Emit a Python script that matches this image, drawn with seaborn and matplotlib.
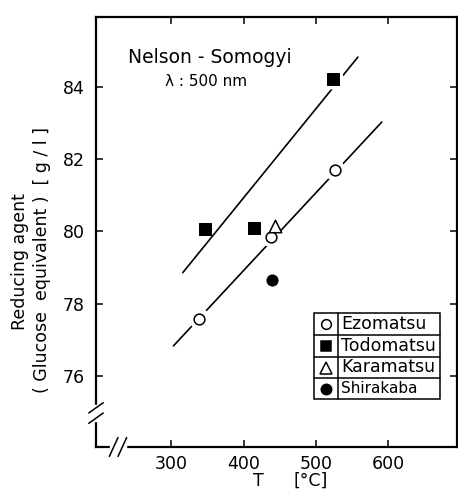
import numpy as np
import pandas as pd
import seaborn as sns
import matplotlib.pyplot as plt
from matplotlib.lines import Line2D
from matplotlib.patches import Rectangle

# Reducing agent yield vs. pyrolysis temperature (Nelson-Somogyi, 500 nm)
ezo_T = [339, 438, 526]
ezo_y = [77.58, 79.86, 81.70]
todo_T = [347, 414, 524]
todo_y = [80.08, 80.10, 84.22]
kara_T = [443]
kara_y = [80.15]
shira_T = [439]
shira_y = [78.65]

# fitted straight lines (end points)
fit_todo_T = [316, 558]
fit_todo_y = [78.86, 84.83]
fit_ezo_T = [303, 591]
fit_ezo_y = [76.83, 83.03]

species = ["Ezomatsu", "Todomatsu", "Karamatsu", "Shirakaba"]
x_ticks = [300, 400, 500, 600]
y_ticks = [76, 78, 80, 82, 84]

sns.set_theme(style="ticks")
plt.rcParams["font.family"] = ["DejaVu Sans"]

fig = plt.figure(figsize=(4.58, 4.96), dpi=100)
ax = fig.add_axes([96 / 458, 49 / 496, 361 / 458, 430 / 496])

# fit lines
sns.lineplot(x=fit_todo_T, y=fit_todo_y, ax=ax, color="black", lw=1.2, zorder=2)
sns.lineplot(x=fit_ezo_T, y=fit_ezo_y, ax=ax, color="black", lw=1.2, zorder=2)

# white halos so the lines stop short of the symbols
halo = pd.DataFrame({"T": ezo_T + [todo_T[2]], "y": ezo_y + [todo_y[2]]})
sns.scatterplot(data=halo, x="T", y="y", ax=ax, s=230, color="white",
                edgecolor="none", zorder=3, legend=False)

ms = 60
sns.scatterplot(x=ezo_T, y=ezo_y, ax=ax, marker="o", s=ms, facecolor="white",
                edgecolor="black", linewidth=1.1, zorder=4)
sns.scatterplot(x=todo_T, y=todo_y, ax=ax, marker="s", s=ms + 20, color="black",
                edgecolor="black", zorder=4)
sns.scatterplot(x=kara_T, y=kara_y, ax=ax, marker="^", s=ms + 20, facecolor="white",
                edgecolor="black", linewidth=1.1, zorder=4)
sns.scatterplot(x=shira_T, y=shira_y, ax=ax, marker="o", s=ms + 5, color="black",
                edgecolor="black", zorder=4)

ax.set_xlim(196, 695)
ax.set_ylim(74.03, 85.94)
ax.set_xticks(x_ticks)
ax.set_yticks(y_ticks)
ax.set_xticklabels([str(v) for v in x_ticks])
ax.set_yticklabels([str(v) for v in y_ticks])
ax.tick_params(direction="in", length=5, width=1.1, top=True, right=True,
               labelsize=12.5, colors="black")
ax.tick_params(axis="x", pad=6)
ax.tick_params(axis="y", pad=8)
for sp in ax.spines.values():
    sp.set_visible(True)
    sp.set_linewidth(1.6)
    sp.set_color("black")
ax.set_xlabel("")
ax.set_ylabel("")

# axis break marks
def break_mark(xc, yc, horizontal):
    tr = ax.transAxes
    if horizontal:
        ax.add_patch(Rectangle((xc - 0.022, yc - 0.01), 0.044, 0.02, transform=tr,
                               color="white", zorder=5, clip_on=False))
        for dx in (-0.012, 0.012):
            ax.add_line(Line2D([xc + dx - 0.012, xc + dx + 0.012],
                               [yc - 0.022, yc + 0.022], transform=tr,
                               color="black", lw=1.1, zorder=6, clip_on=False))
    else:
        ax.add_patch(Rectangle((xc - 0.015, yc - 0.018), 0.03, 0.036, transform=tr,
                               color="white", zorder=5, clip_on=False))
        for dy in (-0.012, 0.012):
            ax.add_line(Line2D([xc - 0.02, xc + 0.02],
                               [yc + dy - 0.012, yc + dy + 0.012], transform=tr,
                               color="black", lw=1.1, zorder=6, clip_on=False))

break_mark(0.0, (447 - 413) / 430, horizontal=False)
break_mark((118 - 96) / 361, 0.0, horizontal=True)

# method annotation
ax.text(0.089, 0.905, "Nelson - Somogyi", transform=ax.transAxes,
        fontsize=13.5, va="center", ha="left", color="black")
ax.text(0.19, 0.850, "λ : 500 nm", transform=ax.transAxes,
        fontsize=11, va="center", ha="left", color="black")

# boxed symbol key
tr = ax.transAxes
def ax_x(px):
    return (px - 96) / 361
def ax_y(py):
    return (447 - py) / 430

bx0, bx1, bdiv = ax_x(314), ax_x(440), ax_x(338)
rows = [313, 335, 357, 378, 399]
ax.add_patch(Rectangle((bx0, ax_y(rows[-1])), bx1 - bx0, ax_y(rows[0]) - ax_y(rows[-1]),
                       transform=tr, facecolor="white", edgecolor="black", lw=1.1,
                       zorder=7))
ax.add_line(Line2D([bdiv, bdiv], [ax_y(rows[0]), ax_y(rows[-1])], transform=tr,
                   color="black", lw=1.1, zorder=8))
for r in rows[1:-1]:
    ax.add_line(Line2D([bx0, bx1], [ax_y(r), ax_y(r)], transform=tr,
                       color="black", lw=1.1, zorder=8))
key_styles = [("o", "white", 7.0), ("s", "black", 7.5), ("^", "white", 8.0), ("o", "black", 7.5)]
for i, (name, (mk, fc, sz)) in enumerate(zip(species, key_styles)):
    yc = ax_y((rows[i] + rows[i + 1]) / 2)
    ax.plot([(bx0 + bdiv) / 2], [yc], transform=tr, marker=mk, ms=sz, mfc=fc,
            mec="black", mew=1.1, ls="none", zorder=9)
    ax.text(bdiv + 0.008, yc, name, transform=tr, fontsize=12.5 if i < 3 else 11,
            va="center", ha="left", color="black", zorder=9)

# axis titles
fig.text(20 / 458, (496 - 262) / 496, "Reducing agent", rotation=90,
         fontsize=12.5, ha="center", va="center", color="black")
fig.text(42 / 458, (496 - 260) / 496, "( Glucose  equivalent )  [ g / l ]", rotation=90,
         fontsize=12.5, ha="center", va="center", color="black")
fig.text(258 / 458, (496 - 481) / 496, "T", fontsize=12.5, ha="center", va="center",
         color="black")
fig.text(311 / 458, (496 - 481) / 496, "[°C]", fontsize=12.5, ha="center", va="center",
         color="black")

fig.savefig("out.png", dpi=100)
